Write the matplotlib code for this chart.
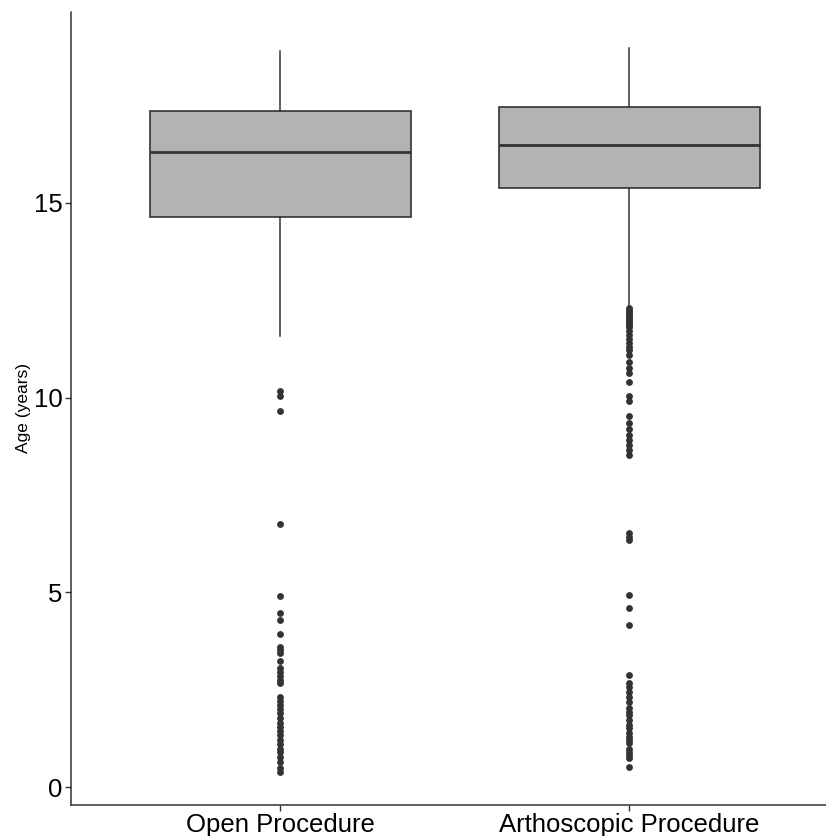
import numpy as np
import matplotlib
matplotlib.use("Agg")
import matplotlib.pyplot as plt

plt.rcParams['font.family'] = ['Liberation Sans', 'DejaVu Sans']

# box statistics (years)
groups = ["Open Procedure", "Arthoscopic Procedure"]
medians = [16.31, 16.49]
q1s = [14.64, 15.39]
q3s = [17.36, 17.47]
whis_lo = [11.58, 12.33]
whis_hi = [18.90, 18.98]

# outliers
open_fliers = [10.17, 10.04, 9.66, 6.75, 4.91, 4.48, 4.29, 3.93, 3.60, 3.52, 3.43,
               3.24, 3.05, 2.95, 2.85, 2.75, 2.66, 2.32, 2.22, 2.11, 2.00, 1.89,
               1.78, 1.64, 1.55, 1.45, 1.34, 1.21, 1.10, 0.99, 0.89, 0.78, 0.65,
               0.48, 0.39]
arth_fliers = [12.30, 12.25, 12.20, 12.15, 12.10, 12.05, 12.00, 11.95, 11.90, 11.85,
               11.80, 11.70, 11.60, 11.50, 11.40, 11.30, 11.22, 11.10, 10.92, 10.75,
               10.63, 10.39, 10.03, 9.90, 9.53, 9.34, 9.19, 9.04, 8.91, 8.78, 8.66,
               8.53, 6.52, 6.43, 6.34, 4.93, 4.59, 4.16, 2.88, 2.66, 2.58, 2.45,
               2.32, 2.19, 2.02, 1.93, 1.85, 1.72, 1.59, 1.51, 1.38, 1.29, 1.21,
               1.12, 0.99, 0.91, 0.82, 0.74, 0.52]
fliers = [open_fliers, arth_fliers]

stats = []
for i in range(len(groups)):
    stats.append({"label": groups[i], "med": medians[i], "q1": q1s[i], "q3": q3s[i],
                  "whislo": whis_lo[i], "whishi": whis_hi[i], "fliers": fliers[i]})

fig = plt.figure(figsize=(8.26, 8.36), dpi=100)
ax = fig.add_axes([71/826, 1 - 805/836, 1 - 71/826, (805 - 12)/836])

edge = "#333333"
ax.bxp(stats, positions=[1, 2], widths=0.75, patch_artist=True, showcaps=False,
       boxprops=dict(facecolor="#b3b3b3", edgecolor=edge, linewidth=1.2),
       medianprops=dict(color=edge, linewidth=2.0),
       whiskerprops=dict(color=edge, linewidth=1.1),
       flierprops=dict(marker="o", markersize=3.9, markerfacecolor=edge,
                       markeredgecolor=edge, linestyle="none"))

ax.set_xlim(0.4, 0.4 + (826 - 71) / 349)
ax.set_ylim(-0.46, 19.9)
ax.set_yticks([0, 5, 10, 15])
ax.set_xticks([1, 2])
ax.set_xticklabels(groups)

for s in ["top", "right"]:
    ax.spines[s].set_visible(False)
for s in ["left", "bottom"]:
    ax.spines[s].set_color(edge)
    ax.spines[s].set_linewidth(1.1)

ax.tick_params(axis="both", colors=edge, length=4, width=1, labelsize=18.5,
               labelcolor="black", pad=2)
ax.set_ylabel("Age (years)", fontsize=12.5, labelpad=2)

fig.savefig("out.png", dpi=100)
